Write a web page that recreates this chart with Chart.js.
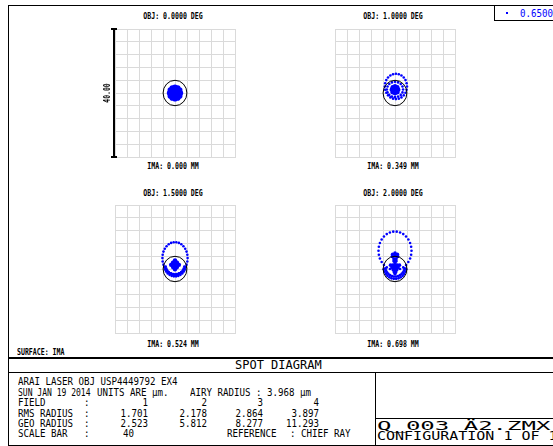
<!DOCTYPE html>
<html>
<head>
<meta charset="utf-8">
<script src="https://cdn.jsdelivr.net/npm/chart.js@4.4.1/dist/chart.umd.min.js"></script>
<style>
  html, body { margin: 0; padding: 0; background: #fff; }
  #page { position: relative; width: 553px; height: 446px; overflow: hidden; background: #fff; }
  .ln { position: absolute; background: #000; }
  .tx { position: absolute; white-space: pre; font-family: "DejaVu Sans Mono", monospace; color: #000; line-height: 1; }
  canvas.spot { position: absolute; }
</style>
</head>
<body>
<div id="page"></div>
<script>
// spot coordinates in micrometres, relative to the chief ray (y up)
var field1Spot = [[1.8, 0], [1.56, 0.9], [0.9, 1.56], [0, 1.8], [-0.9, 1.56], [-1.56, 0.9], [-1.8, 0], [-1.56, -0.9],
  [-0.9, -1.56], [0, -1.8], [0.9, -1.56], [1.56, -0.9], [0.9, 0], [0.45, 0.78], [-0.45, 0.78], [-0.9, 0],
  [-0.45, -0.78], [0.45, -0.78], [0, 0]]

var field2Outer = [[4.0, 2.05], [3.87, 3.07], [3.5, 4.03], [2.92, 4.84], [2.15, 5.47], [1.26, 5.87], [0.3, 6.0],
  [-0.66, 5.87], [-1.55, 5.47], [-2.32, 4.84], [-2.9, 4.03], [-3.27, 3.07], [-3.4, 2.05], [-3.27, 1.03],
  [-2.9, 0.07], [-2.32, -0.74], [-1.55, -1.37], [-0.66, -1.77], [0.3, -1.9], [1.26, -1.77], [2.15, -1.37],
  [2.92, -0.74], [3.5, 0.07], [3.87, 1.03]]
var field2Inner = [[2.7, 1.1], [2.49, 2.02], [1.91, 2.8], [1.03, 3.32], [0, 3.5], [-1.03, 3.32], [-1.91, 2.8],
  [-2.49, 2.02], [-2.7, 1.1], [-2.49, 0.18], [-1.91, -0.6], [-1.03, -1.12], [0, -1.3], [1.03, -1.12],
  [1.91, -0.6], [2.49, 0.18]]
var field2Core = [[1.1, 1.0], [0.78, 1.78], [0, 2.1], [-0.78, 1.78], [-1.1, 1.0], [-0.78, 0.22], [0, -0.1],
  [0.78, 0.22], [0, 1.0]]

var field3Outer = [[4.2, 3.4], [4.11, 4.44], [3.84, 5.44], [3.4, 6.34], [2.81, 7.12], [2.1, 7.73], [1.3, 8.16],
  [0.44, 8.38], [-0.44, 8.38], [-1.3, 8.16], [-2.1, 7.73], [-2.81, 7.12], [-3.4, 6.34], [-3.84, 5.44],
  [-4.11, 4.44], [-4.2, 3.4], [-4.11, 2.36], [-3.84, 1.36], [-3.4, 0.46], [-2.81, -0.32], [-2.1, -0.93],
  [-1.3, -1.36], [-0.44, -1.58], [0.44, -1.58], [1.3, -1.36], [2.1, -0.93], [2.81, -0.32], [3.4, 0.46],
  [3.84, 1.36], [4.11, 2.36]]
var field3Crescent = [[-3.52, 0.55], [-3.29, -0.17], [-2.91, -0.82], [-2.41, -1.37], [-1.8, -1.82],
  [-1.11, -2.12], [-0.38, -2.28], [0.38, -2.28], [1.11, -2.12], [1.8, -1.82], [2.41, -1.37], [2.91, -0.82],
  [3.29, -0.17], [3.52, 0.55], [-3.13, 0.73], [-2.92, 0.1], [-2.59, -0.48], [-2.14, -0.98], [-1.6, -1.37],
  [-0.99, -1.64], [-0.34, -1.78], [0.34, -1.78], [0.99, -1.64], [1.6, -1.37], [2.14, -0.98], [2.59, -0.48],
  [2.92, 0.1], [3.13, 0.73]]
var field3Core = [[0, 2.7], [-0.65, 2.0], [0.65, 2.0], [-1.3, 1.3], [0, 1.3], [1.3, 1.3], [-0.65, 0.6],
  [0.65, 0.6], [0, -0.1]]

var field4Outer = [[5.5, 5.7], [5.38, 6.95], [5.03, 8.14], [4.45, 9.23], [3.68, 10.16], [2.75, 10.9],
  [1.7, 11.41], [0.58, 11.67], [-0.58, 11.67], [-1.7, 11.41], [-2.75, 10.9], [-3.68, 10.16], [-4.45, 9.23],
  [-5.03, 8.14], [-5.38, 6.95], [-5.5, 5.7], [-5.38, 4.45], [-5.03, 3.26], [-4.45, 2.17], [-3.68, 1.24],
  [-2.75, 0.5], [-1.7, -0.01], [-0.58, -0.27], [0.58, -0.27], [1.7, -0.01], [2.75, 0.5], [3.68, 1.24],
  [4.45, 2.17], [5.03, 3.26], [5.38, 4.45]]
var field4Crescent = [[-3.72, -0.09], [-3.47, -0.85], [-3.07, -1.53], [-2.54, -2.12], [-1.9, -2.59],
  [-1.17, -2.91], [-0.4, -3.08], [0.4, -3.08], [1.17, -2.91], [1.9, -2.59], [2.54, -2.12], [3.07, -1.53],
  [3.47, -0.85], [3.72, -0.09], [-3.23, 0.21], [-3.02, -0.44], [-2.67, -1.04], [-2.21, -1.55], [-1.65, -1.96],
  [-1.02, -2.24], [-0.35, -2.38], [0.35, -2.38], [1.02, -2.24], [1.65, -1.96], [2.21, -1.55], [2.67, -1.04],
  [3.02, -0.44], [3.23, 0.21]]
var field4Core = [[0, 5.0], [-0.8, 4.6], [0.8, 4.6], [-0.9, 3.9], [0.9, 3.9], [0, 4.3], [-0.35, 3.2],
  [0.35, 3.2], [-0.35, 2.5], [0.35, 2.5], [0, 1.9], [-1.5, 1.2], [-0.75, 1.2], [0, 1.2], [0.75, 1.2],
  [1.5, 1.2], [-1.0, 0.5], [-0.33, 0.5], [0.33, 0.5], [1.0, 0.5], [-0.6, -0.2], [0, -0.2], [0.6, -0.2],
  [-0.25, -0.9], [0.25, -0.9], [0, -1.5]]

var gridTicks = [-20, -16, -12, -8, -4, 0, 4, 8, 12, 16, 20]
var airyRadius = 3.968
var scaleBar = 40
var objLabels = ["OBJ: 0.0000 DEG", "OBJ: 1.0000 DEG", "OBJ: 1.5000 DEG", "OBJ: 2.0000 DEG"]
var imaLabels = ["IMA: 0.000 MM", "IMA: 0.349 MM", "IMA: 0.524 MM", "IMA: 0.698 MM"]
var fieldNumbers = ["1", "2", "3", "4"]
var rmsRadius = ["1.701", "2.178", "2.864", "3.897"]
var geoRadius = ["2.523", "5.812", "8.277", "11.293"]
var wavelengths = ["0.6500"]

var page = document.getElementById("page")

function line(x, y, w, h) {
  var d = document.createElement("div")
  d.className = "ln"
  d.style.left = x + "px"
  d.style.top = y + "px"
  d.style.width = w + "px"
  d.style.height = h + "px"
  page.appendChild(d)
  return d
}

function text(str, x, base, size, opts) {
  opts = opts || {}
  var d = document.createElement("div")
  d.className = "tx"
  d.textContent = str
  d.style.fontSize = size + "px"
  d.style.left = x + "px"
  d.style.top = (base - 0.846 * size) + "px"
  if (opts.bold) d.style.fontWeight = "bold"
  if (opts.color) d.style.color = opts.color
  if (opts.spacing) d.style.letterSpacing = opts.spacing + "px"
  var sx = opts.sx || 1
  var align = opts.align || "left"
  if (align === "left") {
    d.style.transformOrigin = "0 0"
    d.style.transform = "scaleX(" + sx + ")"
  }
  if (align === "right") {
    d.style.transformOrigin = "100% 0"
    d.style.transform = "translateX(-100%) scaleX(" + sx + ")"
  }
  if (align === "center") {
    d.style.transformOrigin = "50% 0"
    d.style.transform = "translateX(-50%) scaleX(" + sx + ")"
  }
  page.appendChild(d)
  return d
}

function pts(arr) {
  return arr.map(function (p) { return { x: p[0], y: p[1] } })
}

function spots(arr, r) {
  return {
    data: pts(arr),
    backgroundColor: "#0000ff",
    borderWidth: 0,
    pointRadius: r,
    pointHoverRadius: r
  }
}

// Airy disk drawn through the chart's own scales
var airyPlugin = {
  id: "airy",
  afterDatasetsDraw: function (chart) {
    var sx = chart.scales.x
    var sy = chart.scales.y
    var ctx = chart.ctx
    var cx = sx.getPixelForValue(0)
    var cy = sy.getPixelForValue(0)
    var rx = sx.getPixelForValue(airyRadius) - cx
    var ry = cy - sy.getPixelForValue(airyRadius)
    ctx.save()
    ctx.strokeStyle = "#000"
    ctx.lineWidth = 1
    ctx.beginPath()
    ctx.ellipse(cx, cy, rx, ry, 0, 0, 2 * Math.PI)
    ctx.stroke()
    ctx.restore()
  }
}

function axis() {
  return {
    type: "linear",
    min: gridTicks[0],
    max: gridTicks[gridTicks.length - 1],
    ticks: { display: false },
    afterBuildTicks: function (scale) {
      scale.ticks = gridTicks.map(function (v) { return { value: v } })
    },
    grid: { color: "#dadada", lineWidth: 1, drawTicks: false, tickLength: 0 },
    border: { color: "#dadada", width: 1 }
  }
}

function spotChart(left, top, sets) {
  var c = document.createElement("canvas")
  c.className = "spot"
  c.width = 126
  c.height = 134
  c.style.left = (left - 3) + "px"
  c.style.top = (top - 3) + "px"
  page.appendChild(c)
  return new Chart(c, {
    type: "scatter",
    data: { datasets: sets },
    options: {
      responsive: false,
      animation: false,
      devicePixelRatio: 1,
      layout: { padding: 3 },
      plugins: { legend: { display: false }, tooltip: { enabled: false } },
      scales: { x: axis(), y: axis() }
    },
    plugins: [airyPlugin]
  })
}

var chart1 = spotChart(115, 29, [spots(field1Spot, 2.8)])
var chart2 = spotChart(335, 29, [spots(field2Outer, 1.3), spots(field2Inner, 1.3), spots(field2Core, 2.2)])
var chart3 = spotChart(115, 205, [spots(field3Outer, 1.3), spots(field3Crescent, 1.4), spots(field3Core, 2.2)])
var chart4 = spotChart(335, 205, [spots(field4Outer, 1.3), spots(field4Crescent, 1.4), spots(field4Core, 1.8)])

// panel captions
var capX = [173, 393, 173, 393]
var objBase = [20, 20, 197, 197]
var imaBase = [170, 170, 348, 348]
for (var i = 0; i < 4; i++) {
  text(objLabels[i], capX[i], objBase[i], 9, { bold: true, sx: 0.73, align: "center" })
  text(imaLabels[i], capX[i], imaBase[i], 9, { bold: true, sx: 0.73, align: "center" })
}

// scale bar
line(113, 29, 2, 128)
line(111, 28, 6, 2)
line(111, 156, 6, 2)
var sb = text(scaleBar.toFixed(2), 0, 0, 9, { bold: true })
sb.style.left = "106.5px"
sb.style.top = "93px"
sb.style.transformOrigin = "50% 50%"
sb.style.transform = "translate(-50%, -50%) rotate(-90deg) scaleX(0.72)"

// frame
line(8, 5, 545, 1)
line(8, 5, 1, 441)
line(494, 5, 1, 15)
line(494, 20, 59, 1)
line(8, 357, 545, 2)
line(8, 372, 545, 1)
line(8, 445, 545, 1)
line(375, 372, 1, 73)
line(375, 418, 178, 1)

// wavelength legend
var dot = line(506, 12, 2, 2)
dot.style.background = "#0000ff"
text(wavelengths[0], 520, 17, 11, { sx: 0.83, color: "#0000ff" })

text("SURFACE: IMA", 17, 356, 9, { bold: true, sx: 0.73 })
text("SPOT DIAGRAM", 235, 369, 12, {})

// text block
var f = { sx: 0.83 }
text("ARAI LASER OBJ USP4449792 EX4", 18, 385, 11, f)
text("SUN JAN 19 2014", 18, 396, 11, { sx: 0.73 })
text("UNITS ARE \u00b5m.", 97, 396, 11, f)
text("AIRY RADIUS : " + airyRadius.toFixed(3) + " \u00b5m", 190, 396, 11, f)
text("FIELD", 18, 406, 11, f)
text("RMS RADIUS", 18, 417, 11, f)
text("GEO RADIUS", 18, 427, 11, f)
text("SCALE BAR", 18, 437, 11, f)
var rows = [406, 417, 427, 437]
for (var r = 0; r < 4; r++) text(":", 84, rows[r], 11, f)
var colRight = [148, 207, 263, 319]
for (var k = 0; k < 4; k++) {
  text(fieldNumbers[k], colRight[k], 406, 11, { sx: 0.83, align: "right" })
  text(rmsRadius[k], colRight[k], 417, 11, { sx: 0.83, align: "right" })
  text(geoRadius[k], colRight[k], 427, 11, { sx: 0.83, align: "right" })
}
text(String(scaleBar), 123, 437, 11, f)
text("REFERENCE", 227, 437, 11, f)
text(": CHIEF RAY", 290, 437, 11, f)

text("Q_003 \u00c42.ZMX", 377, 430, 12, { sx: 2.0 })
text("CONFIGURATION 1 OF 1", 377, 440, 12, { sx: 1.25 })
</script>
</body>
</html>
